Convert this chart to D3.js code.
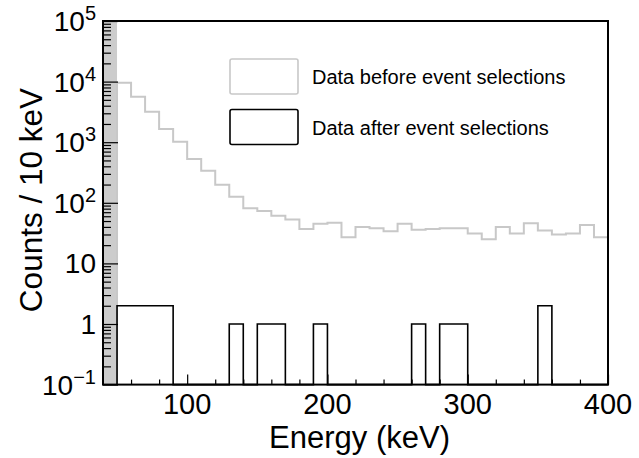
<!DOCTYPE html>
<html>
<head>
<meta charset="utf-8">
<script src="https://cdn.jsdelivr.net/npm/d3@7"></script>
<style>
  html, body { margin: 0; padding: 0; background: #fff; }
  svg { display: block; font-family: "Liberation Sans", Arial, Helvetica, sans-serif; }
</style>
</head>
<body>
<svg id="chart" width="639" height="458"></svg>
<script>
// ---- data ----
const binLowEdges = [50,60,70,80,90,100,110,120,130,140,150,160,170,180,190,200,210,220,230,240,250,260,270,280,290,300,310,320,330,340,350,360,370,380,390];
const binWidth = 10;
const countsBefore = [9600,5640,3190,1650,1020,528,339,199,126,81,73,61,53,37,45,47,27,40,38,34,45,36,37,38,38,31,25,40,31,46,35,30,31,43,27];
const countsAfter  = [2,2,2,2,0,0,0,0,1,0,1,1,0,0,1,0,0,0,0,0,0,1,0,1,1,0,0,0,0,0,2,0,0,0,0];
const excludedRange = [40, 50];
const xTickMajor = [100, 200, 300, 400];
const xTickMinor = [60, 80, 120, 140, 160, 180, 220, 240, 260, 280, 320, 340, 360, 380];
const yTickExponents = [-1, 0, 1, 2, 3, 4, 5];
const legendLabels = ["Data before event selections", "Data after event selections"];
const xTitle = "Energy (keV)";
const yTitle = "Counts / 10 keV";

// ---- layout ----
const svg = d3.select("#chart");
const x = d3.scaleLinear().domain([40, 400]).range([103, 608]);
const y = d3.scaleLog().domain([0.1, 1e5]).range([384.6, 21]);
const yMin = y.domain()[0];

// excluded grey band
svg.append("rect")
  .attr("x", x(excludedRange[0])).attr("y", y(1e5))
  .attr("width", x(excludedRange[1]) - x(excludedRange[0]))
  .attr("height", y(yMin) - y(1e5))
  .attr("fill", "#cccccc");

// histogram outline path builder
function histPath(values) {
  const pts = [];
  const lo = v => Math.max(v, yMin);
  pts.push([x(binLowEdges[0]), y(yMin)]);
  values.forEach((v, i) => {
    const x0 = x(binLowEdges[i]), x1 = x(binLowEdges[i] + binWidth);
    pts.push([x0, y(lo(v))]);
    pts.push([x1, y(lo(v))]);
  });
  pts.push([x(binLowEdges[binLowEdges.length - 1] + binWidth), y(yMin)]);
  return d3.line()(pts);
}

svg.append("path").attr("d", histPath(countsBefore))
  .attr("fill", "none").attr("stroke", "#c8c8c8").attr("stroke-width", 2);
svg.append("path").attr("d", histPath(countsAfter))
  .attr("fill", "none").attr("stroke", "#000").attr("stroke-width", 1.6);

// axes ticks (inward)
const yMinor = [];
yTickExponents.slice(0, -1).forEach(e => { for (let m = 2; m <= 9; m++) yMinor.push(m * Math.pow(10, e)); });
const yMajor = yTickExponents.map(e => Math.pow(10, e));

const gy = svg.append("g").attr("transform", `translate(${x(40)},0)`);
gy.call(d3.axisLeft(y).tickValues(yMajor).tickSize(-15).tickFormat(""));
const gy2 = svg.append("g").attr("transform", `translate(${x(40)},0)`);
gy2.call(d3.axisLeft(y).tickValues(yMinor).tickSize(-8).tickFormat(""));
const gx = svg.append("g").attr("transform", `translate(0,${y(yMin)})`);
gx.call(d3.axisBottom(x).tickValues(xTickMajor).tickSize(-10).tickFormat(""));
const gx2 = svg.append("g").attr("transform", `translate(0,${y(yMin)})`);
gx2.call(d3.axisBottom(x).tickValues(xTickMinor).tickSize(-5).tickFormat(""));
[gy, gy2, gx, gx2].forEach(g => {
  g.select(".domain").remove();
  g.selectAll(".tick line").attr("stroke", "#000").attr("stroke-width", 1.2);
});

// frame
svg.append("rect")
  .attr("x", x(40)).attr("y", y(1e5))
  .attr("width", x(400) - x(40)).attr("height", y(yMin) - y(1e5))
  .attr("fill", "none").attr("stroke", "#000").attr("stroke-width", 2);

// x tick labels
svg.append("g").selectAll("text").data(xTickMajor).join("text")
  .attr("x", d => x(d)).attr("y", 413.5)
  .attr("text-anchor", "middle").attr("font-size", 29)
  .text(d => d);

// y tick labels
const yl = svg.append("g").selectAll("text").data(yTickExponents).join("text")
  .attr("x", 96).attr("y", d => y(Math.pow(10, d)) + 10)
  .attr("text-anchor", "end").attr("font-size", 28);
yl.each(function(e) {
  const t = d3.select(this);
  if (e === 0) { t.text("1"); return; }
  if (e === 1) { t.text("10"); return; }
  t.append("tspan").text("10");
  t.append("tspan").attr("font-size", 20).attr("dy", -11)
    .text(e < 0 ? "\u2212" + Math.abs(e) : String(e));
});

// axis titles
svg.append("text").attr("x", 450).attr("y", 448)
  .attr("text-anchor", "end").attr("font-size", 31).text(xTitle);
svg.append("text")
  .attr("transform", "translate(41.5,88) rotate(-90)")
  .attr("text-anchor", "end").attr("font-size", 31.5).text(yTitle);

// legend
const legendColors = ["#c8c8c8", "#000"];
const legendY = [59, 109.5];
const lg = svg.append("g");
legendLabels.forEach((lab, i) => {
  lg.append("rect").attr("x", 230).attr("y", legendY[i]).attr("width", 68).attr("height", 35)
    .attr("rx", 2).attr("fill", "none").attr("stroke", legendColors[i]).attr("stroke-width", 1.6);
  lg.append("text").attr("x", 312).attr("y", legendY[i] + 25)
    .attr("font-size", 20).text(lab);
});
</script>
</body>
</html>
